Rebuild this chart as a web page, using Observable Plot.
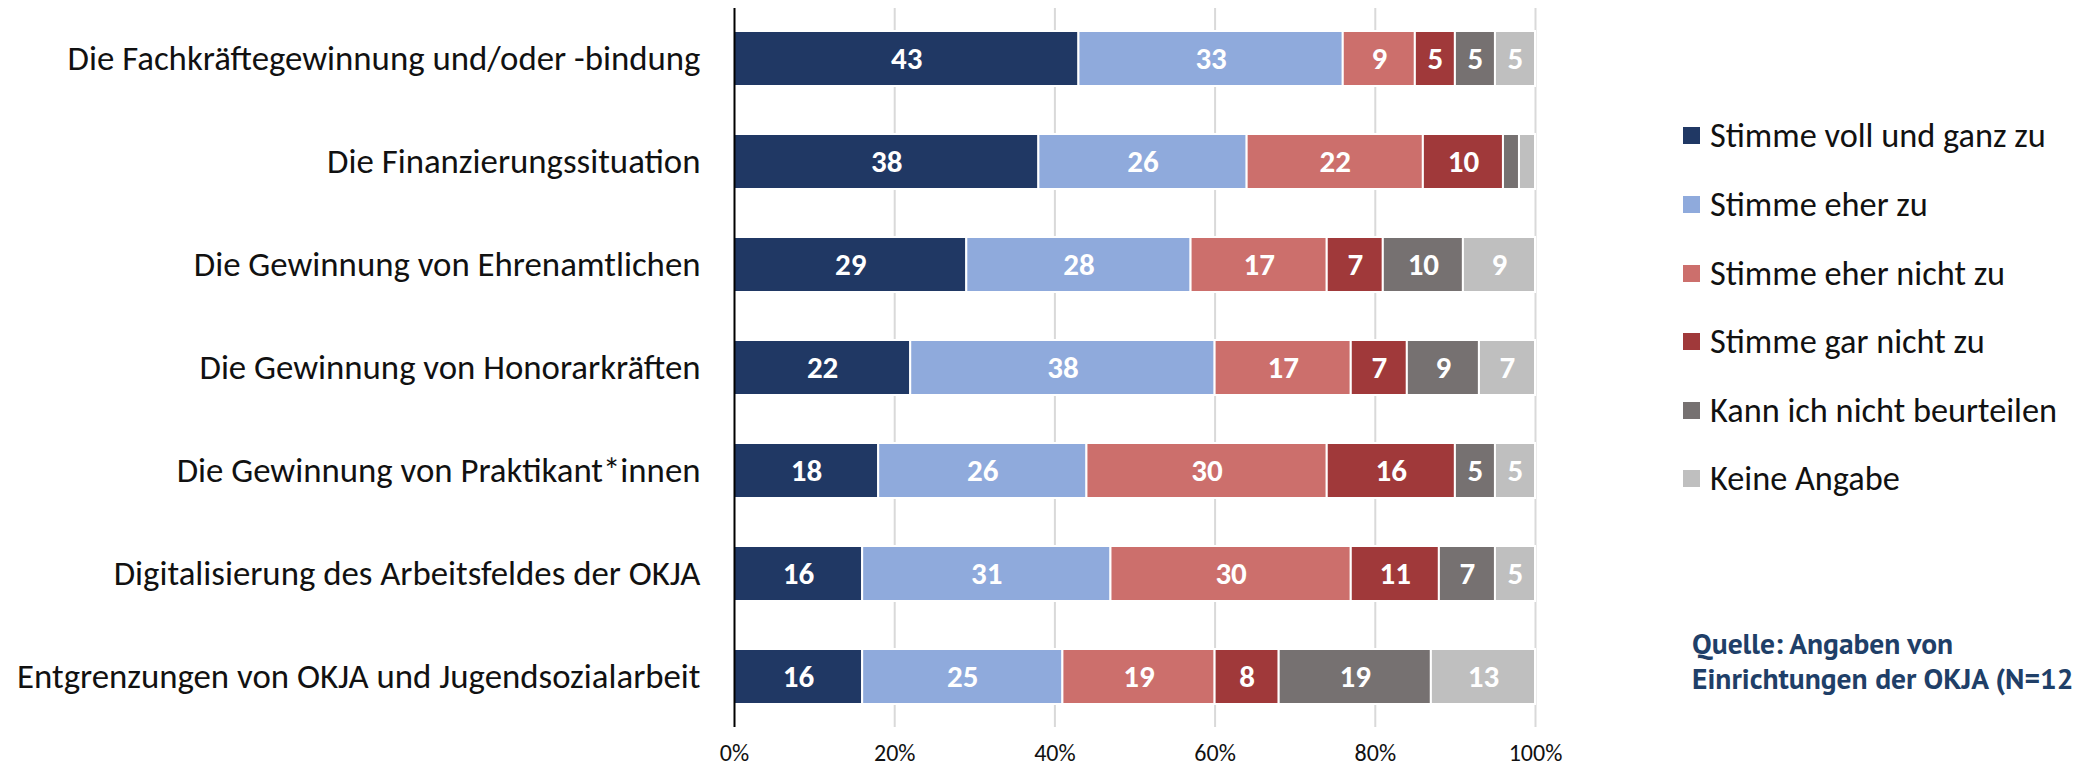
<!DOCTYPE html>
<html>
<head>
<meta charset="utf-8">
<script src="https://cdn.jsdelivr.net/npm/d3@7"></script>
<script src="https://cdn.jsdelivr.net/npm/@observablehq/plot@0.6"></script>
<style>
  html, body { margin: 0; padding: 0; background: #fff; }
  #wrap { position: relative; width: 2079px; height: 767px; overflow: hidden; font-family: Carlito, Lato, "Open Sans", sans-serif; }
  #chart { position: absolute; left: 0; top: 0; }
  #legend { position: absolute; left: 1683px; top: 0; }
  .li { position: absolute; left: 0; display: flex; align-items: center; white-space: nowrap; font-size: 34.3px; color: #111; transform: translateY(-50%); }
  .sw { width: 17px; height: 17px; margin-right: 10px; flex: none; }
  #source { position: absolute; left: 1692px; top: 626px; font-family: "PT Sans", Lato, sans-serif; font-weight: 700; font-size: 29.5px; line-height: 35px; color: #1F3F68; white-space: nowrap; }
</style>
</head>
<body>
<div id="wrap">
  <div id="chart"></div>
  <div id="legend"></div>
  <div id="source">Quelle: Angaben von<br>Einrichtungen der OKJA (N=12</div>
</div>
<script>
const categories = [
  "Die Fachkräftegewinnung und/oder -bindung",
  "Die Finanzierungssituation",
  "Die Gewinnung von Ehrenamtlichen",
  "Die Gewinnung von Honorarkräften",
  "Die Gewinnung von Praktikant*innen",
  "Digitalisierung des Arbeitsfeldes der OKJA",
  "Entgrenzungen von OKJA und Jugendsozialarbeit"
];
const seriesNames = [
  "Stimme voll und ganz zu",
  "Stimme eher zu",
  "Stimme eher nicht zu",
  "Stimme gar nicht zu",
  "Kann ich nicht beurteilen",
  "Keine Angabe"
];
const colors = ["#203864", "#8FAADC", "#CC6F6C", "#A0393A", "#767171", "#BFBFBF"];

const vollUndGanz   = [43, 38, 29, 22, 18, 16, 16];
const eherZu        = [33, 26, 28, 38, 26, 31, 25];
const eherNicht     = [9, 22, 17, 17, 30, 30, 19];
const garNicht      = [5, 10, 7, 7, 16, 11, 8];
const nichtBeurteil = [5, 2, 10, 9, 5, 7, 19];
const keineAngabe   = [5, 2, 9, 7, 5, 5, 13];

const xTicks = [0, 20, 40, 60, 80, 100];

const seriesValues = [vollUndGanz, eherZu, eherNicht, garNicht, nichtBeurteil, keineAngabe];
const table = [];
categories.forEach((c, i) => {
  seriesNames.forEach((s, j) => {
    table.push({cat: c, series: s, value: seriesValues[j][i]});
  });
});

const stackOpts = {x: "value", y: "cat", z: "series", order: seriesNames};

const plot = Plot.plot({
  width: 1600,
  height: 767,
  marginLeft: 734,
  marginRight: 65,
  marginTop: 8,
  marginBottom: 40,
  style: {fontFamily: "Carlito, Lato, 'Open Sans', sans-serif", background: "#fff"},
  x: {domain: [0, 100], ticks: xTicks, tickFormat: d => d + "%", label: null},
  y: {domain: categories, paddingInner: 0.47, paddingOuter: 0.22, label: null},
  color: {domain: seriesNames, range: colors},
  marks: [
    Plot.ruleX(xTicks.filter(d => d > 0), {stroke: "#D9D9D9", strokeWidth: 2}),
    Plot.barX(table, Plot.stackX({...stackOpts, fill: "series", stroke: "#fff", strokeWidth: 2})),
    Plot.text(table, Plot.stackX({...stackOpts, text: d => d.value >= 4 ? String(d.value) : "", fill: "#fff", fontWeight: "bold", fontSize: 31})),
    Plot.ruleX([0], {stroke: "#000", strokeWidth: 2}),
    Plot.axisX({ticks: xTicks, tickFormat: d => d + "%", tickSize: 0, tickPadding: 16, fontSize: 24, color: "#111", label: null}),
    Plot.axisY({tickSize: 0, tickPadding: 34, fontSize: 34.8, color: "#111", label: null})
  ]
});
document.getElementById("chart").appendChild(plot);

const legend = document.getElementById("legend");
const legendY = [135, 204, 273, 341, 410, 478];
seriesNames.forEach((s, i) => {
  const item = document.createElement("div");
  item.className = "li";
  item.style.top = legendY[i] + "px";
  const sw = document.createElement("span");
  sw.className = "sw";
  sw.style.background = colors[i];
  const t = document.createElement("span");
  t.textContent = s;
  item.appendChild(sw);
  item.appendChild(t);
  legend.appendChild(item);
});
</script>
</body>
</html>
